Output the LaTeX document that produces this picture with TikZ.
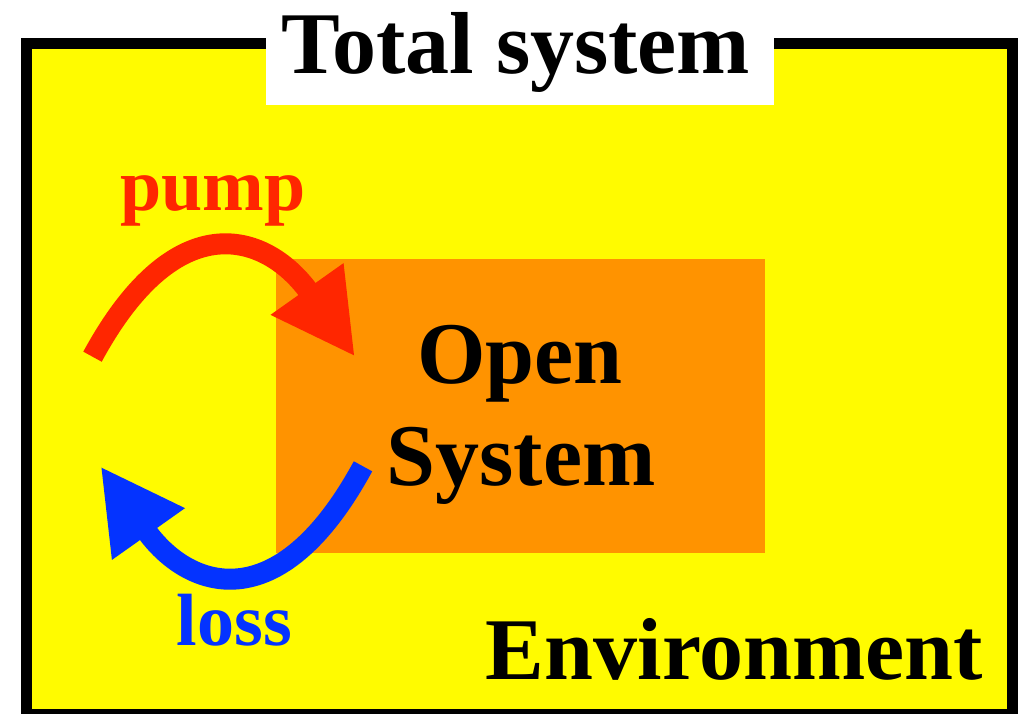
\documentclass[tikz,border=0pt]{standalone}
\usepackage{fontspec}
\setmainfont{Liberation Serif}
\usetikzlibrary{arrows.meta}
\definecolor{mred}{RGB}{255,38,0}
\definecolor{mblue}{RGB}{4,51,255}
\definecolor{morange}{RGB}{255,147,0}
\definecolor{myellow}{RGB}{255,251,0}
\tikzset{
  bigtext/.style={anchor=base, inner sep=0pt, font=\bfseries\fontsize{88}{100}\selectfont},
  smalltext/.style={anchor=base, inner sep=0pt, font=\bfseries\fontsize{74}{84}\selectfont},
  flow/.style={line width=21pt, -{Triangle[length=83pt,width=83pt]}},
  plainbox/.style={rectangle, inner sep=0pt, outer sep=0pt}
}
\begin{document}
\begin{tikzpicture}[x=1pt,y=-1pt]
\useasboundingbox (0,0) rectangle (1028,713);
% total system frame
\node[plainbox, draw=black, line width=11pt, fill=myellow,
      minimum width=986.25pt, minimum height=670.5pt] (total) at (519.625,378.75) {};
% title background
\node[plainbox, fill=white, minimum width=508pt, minimum height=80pt] (titlebox) at (520,65) {};
\node[bigtext] (title) at (516,73) {Total system};
% open system
\node[plainbox, fill=morange, minimum width=489pt, minimum height=294pt] (open) at (520.5,406) {};
\node[bigtext] (opentext) at (520,383) {Open};
\node[bigtext] (systext) at (521,485) {System};
% arrows
\coordinate (pumpS) at (92.5,356.7);
\coordinate (pumpE) at (355,356.7);
\coordinate (lossS) at (363,466.3);
\coordinate (lossE) at (100.5,466.3);
\draw[flow, mred] (pumpS) .. controls (177.4,200.2) and (268.3,234.3) .. (pumpE);
\draw[flow, mblue] (lossS) .. controls (278.1,622.8) and (187.2,588.7) .. (lossE);
\node[smalltext, text=mred] (pump) at (213,210) {pump};
\node[smalltext, text=mblue] (loss) at (234.5,645) {loss};
\node[bigtext] (envtext) at (734.5,679) {Environment};
\end{tikzpicture}
\end{document}
